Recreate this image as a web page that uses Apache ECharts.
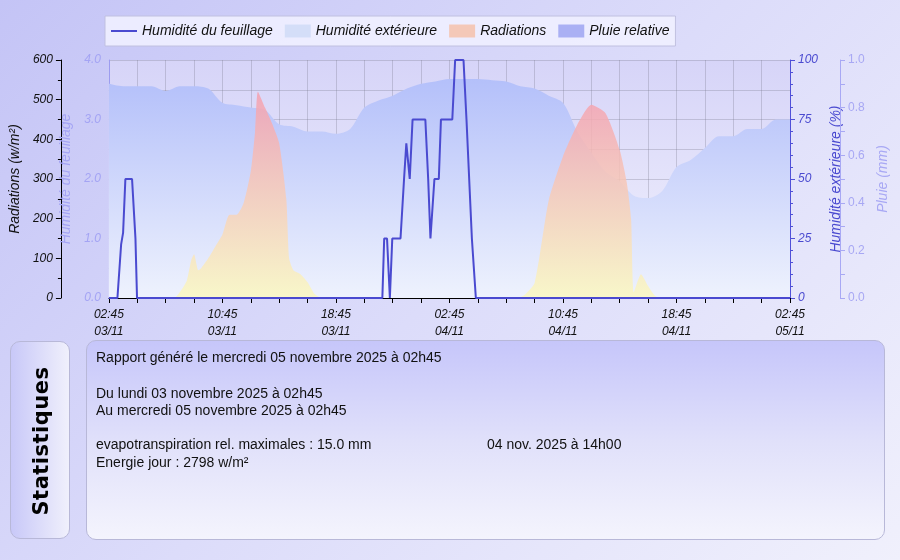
<!DOCTYPE html>
<html><head><meta charset="utf-8">
<script src="https://cdn.jsdelivr.net/npm/echarts@6/dist/echarts.min.js"></script>
<style>
html,body{margin:0;padding:0;}
#wrap{position:relative;width:900px;height:560px;background:linear-gradient(135deg,#c4c4f6 0%,#dcdcfa 50%,#f0f0fc 100%);overflow:hidden;}
#chart{position:absolute;left:0;top:0;width:900px;height:560px;}
#side{position:absolute;left:10px;top:341px;width:60px;height:198px;border:1px solid #b8b8d8;border-radius:10px;background:linear-gradient(90deg,#c8c8f8,#f0f0fc);box-sizing:border-box;}
#side span{position:absolute;left:30px;top:99px;transform:translate(-50%,-50%) rotate(-90deg);font:bold 21px "DejaVu Sans",sans-serif;letter-spacing:0.5px;white-space:nowrap;color:#000;}
#stats{position:absolute;left:86px;top:340px;width:799px;height:200px;border:1px solid #b8b8d8;border-radius:10px;background:linear-gradient(180deg,#c6c6fa 0%,#e0e0fa 50%,#f4f4fd 100%);box-sizing:border-box;font:14px "Liberation Sans Narrow","Arial Narrow","Liberation Sans",sans-serif;color:#111;}
#stats div{position:absolute;white-space:nowrap;}
</style></head><body>
<div id="wrap">
<div id="chart"></div>
<div id="side"><span>Statistiques</span></div>
<div id="stats">
<div style="left:9px;top:8px">Rapport généré le mercredi 05 novembre 2025 à 02h45</div>
<div style="left:9px;top:44px">Du lundi 03 novembre 2025 à 02h45</div>
<div style="left:9px;top:61px">Au mercredi 05 novembre 2025 à 02h45</div>
<div style="left:9px;top:95px">evapotranspiration rel. maximales : 15.0 mm</div>
<div style="left:400px;top:95px">04 nov. 2025 à 14h00</div>
<div style="left:9px;top:113px">Energie jour : 2798 w/m²</div>
</div>
</div>
<script>
// hours since 03/11 02:45
const xTickLabels = ['02:45\n03/11','10:45\n03/11','18:45\n03/11','02:45\n04/11','10:45\n04/11','18:45\n04/11','02:45\n05/11'];
const humHours = [0,1,2,3,4,5,6,7,8,9,10,11,12,13,14,15,16,17,18,19,20,21,22,23,24,25,26,27,28,29,30,31,32,33,34,35,36,37,38,39,40,41,42,43,44,45,46,47,48];
const humValues = [90,89,89,89,87,89,89,88,82,81,80,79,73,72,70,70,69,71,80,83,85,88,90,91,92,92,92,91.5,91,89,88,85,82,70,61,53,49,43,42,45,55,58,63,68,68,71,71,75,75];
const radHours = [0,4.6,4.9,5.2,5.5,5.8,6,6.3,6.5,7,7.5,8,8.5,9,9.5,10,10.3,10.5,11,11.5,12,12.5,12.7,13,13.5,14,14.5,15,28.8,29.3,30,31,32,33,34,35,36,36.5,36.8,37,37.5,38,38.5,39,48];
const radValues = [0,0,10,25,45,95,110,70,75,100,130,160,210,210,240,320,420,520,480,440,390,250,100,70,60,40,10,0,0,8,38,247,357,436,487,466,373,290,200,15,60,30,5,0,0];
const leafHours = [0,0.6,0.86,1.0,1.16,1.63,1.87,1.98,19.27,19.4,19.6,19.8,19.97,20.55,20.8,20.96,21.2,21.4,22.3,22.5,22.66,22.8,22.94,23.25,23.4,24.2,24.4,24.99,25.2,25.58,25.86,48];
const leafValues = [0,0,0.9,1.1,2.0,2.0,1.0,0,0,1.0,1.0,0,1.0,1.0,2.0,2.6,2.0,3.0,3.0,2.0,1.0,1.0,2.0,2.0,3.0,3.0,4.0,4.0,3.0,1.0,0,0];
const rainHours = [0,48];
const rainValues = [0,0];

const pair = (h,v)=>h.map((x,i)=>[x,v[i]]);
const it = {fontStyle:'italic',fontFamily:'"Liberation Sans",Arial,sans-serif'};
const chart = echarts.init(document.getElementById('chart'),null,{renderer:'canvas'});
chart.setOption({
  animation:false,
  backgroundColor:'transparent',
  legend:{top:16,left:105,right:22,height:30,padding:[8,6],itemGap:12,
    backgroundColor:'rgba(240,240,255,0.9)',borderColor:'#c0c0e0',borderWidth:1,
    textStyle:Object.assign({fontSize:14,color:'#111'},it),itemWidth:26,itemHeight:13,
    data:[{name:'Humidité du feuillage',icon:'path://M0,6L26,6L26,8L0,8Z'},
      {name:'Humidité extérieure',icon:'rect'},{name:'Radiations',icon:'rect'},{name:'Pluie relative',icon:'rect'}]},
  grid:{left:105,right:110,top:60,bottom:262,show:true,borderWidth:0,
    backgroundColor:new echarts.graphic.LinearGradient(0,0,0,1,[{offset:0,color:'#d6d4f8'},{offset:1,color:'#f2f2fd'}])},
  xAxis:{type:'value',min:0,max:48,interval:2,
    axisLine:{onZero:false,lineStyle:{color:'#000'}},axisTick:{length:5,lineStyle:{color:'#000'}},
    splitLine:{lineStyle:{color:'rgba(120,120,140,0.3)'}},
    axisLabel:Object.assign({color:'#111',fontSize:12,lineHeight:17,margin:8,
      formatter:v=> v%8===0 ? xTickLabels[v/8] : ''},it)},
  yAxis:[
    {type:'value',min:0,max:600,interval:100,position:'left',offset:48,
      name:'Radiations (w/m²)',nameLocation:'middle',nameGap:32,nameTextStyle:Object.assign({fontSize:14,color:'#111'},it),
      axisLine:{show:true,onZero:false,lineStyle:{color:'#000'}},axisTick:{show:true,length:5},minorTick:{show:true,splitNumber:2,length:3,lineStyle:{color:'#000'}},
      splitLine:{show:false},axisLabel:Object.assign({color:'#111',fontSize:12},it)},
    {type:'value',min:0,max:4,interval:0.5,position:'left',offset:0,
      name:'Humidité du feuillage',nameLocation:'middle',nameGap:32,nameTextStyle:Object.assign({fontSize:14,color:'#a4a4f4'},it),
      axisLine:{show:true,onZero:false,lineStyle:{color:'#9c9cf0'}},axisTick:{show:false},
      splitLine:{show:true,lineStyle:{color:'rgba(120,120,140,0.3)'}},
      axisLabel:Object.assign({color:'#a4a4f4',fontSize:12,formatter:v=>v%1===0?v.toFixed(1):''},it)},
    {type:'value',min:0,max:100,interval:25,position:'right',offset:0,
      name:'Humidité extérieure (%)',nameLocation:'middle',nameGap:32,nameTextStyle:Object.assign({fontSize:14,color:'#4a4ad0'},it),
      axisLine:{show:true,onZero:false,lineStyle:{color:'#5050d8'}},axisTick:{show:true,length:5,lineStyle:{color:'#5050d8'}},
      minorTick:{show:true,splitNumber:5,length:3,lineStyle:{color:'#5050d8'}},
      splitLine:{show:false},axisLabel:Object.assign({color:'#4a4ad0',fontSize:12},it)},
    {type:'value',min:0,max:1,interval:0.2,position:'right',offset:50,
      name:'Pluie (mm)',nameLocation:'middle',nameGap:36,nameTextStyle:Object.assign({fontSize:14,color:'#a8a8f4'},it),
      axisLine:{show:true,onZero:false,lineStyle:{color:'#a8a8f4'}},axisTick:{show:true,length:5,lineStyle:{color:'#a8a8f4'}},
      minorTick:{show:true,splitNumber:2,length:5,lineStyle:{color:'#a8a8f4'}},
      splitLine:{show:false},axisLabel:{color:'#a8a8f4',fontSize:12,fontFamily:'"Liberation Sans",Arial,sans-serif',formatter:v=>v.toFixed(1)}}
  ],
  series:[
    {name:'Humidité extérieure',type:'line',yAxisIndex:2,data:pair(humHours,humValues),symbol:'none',smooth:0.3,
      lineStyle:{width:0},itemStyle:{color:'#d4def8'},
      areaStyle:{opacity:1,color:new echarts.graphic.LinearGradient(0,0,0,1,[{offset:0,color:'#b4c0fa'},{offset:1,color:'#eef2fd'}])},z:1},
    {name:'Radiations',type:'line',yAxisIndex:0,data:pair(radHours,radValues),symbol:'none',smooth:0.2,
      lineStyle:{width:0},itemStyle:{color:'#f4c8b8'},
      areaStyle:{opacity:0.85,color:new echarts.graphic.LinearGradient(0,0,0,1,[{offset:0,color:'#f4a0b0'},{offset:1,color:'#faf8c0'}])},z:2},
    {name:'Pluie relative',type:'line',yAxisIndex:3,data:pair(rainHours,rainValues),symbol:'none',
      lineStyle:{width:0},itemStyle:{color:'#aab0f4'},areaStyle:{color:'#9ca0f0',opacity:0.7},z:3},
    {name:'Humidité du feuillage',type:'line',yAxisIndex:1,data:pair(leafHours,leafValues),symbol:'none',
      lineStyle:{width:2,color:'#4a4ad0'},itemStyle:{color:'#4a4ad0'},z:4}
  ]
});
</script>
</body></html>
